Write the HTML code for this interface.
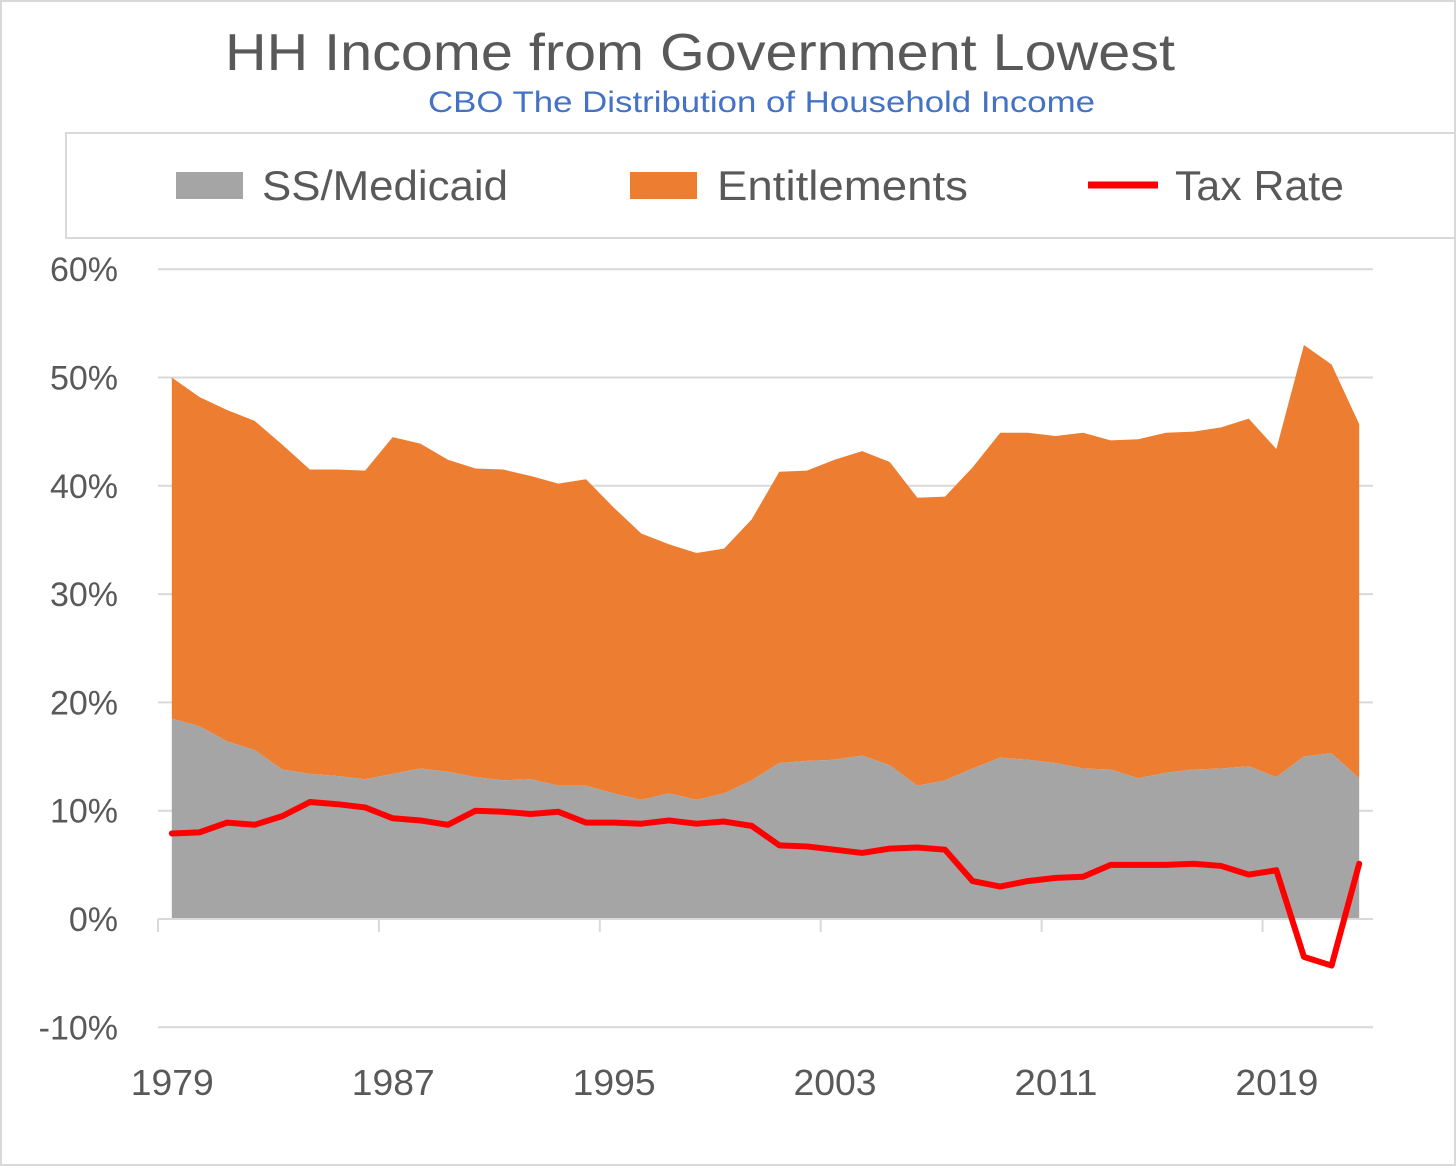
<!DOCTYPE html>
<html><head><meta charset="utf-8"><style>
body{margin:0;background:#fff}
#wrap{position:relative;width:1456px;height:1166px;box-sizing:border-box;border:2px solid #d9d9d9;font-family:"Liberation Sans",sans-serif}
text{font-family:"Liberation Sans",sans-serif}
</style></head><body>
<div id="wrap">
<svg id="c" width="1452" height="1162" viewBox="2 2 1452 1162" style="position:absolute;left:0;top:0">
<text x="225" y="70" font-size="52" fill="#595959" textLength="950" lengthAdjust="spacingAndGlyphs">HH Income from Government Lowest</text>
<text x="428" y="112" font-size="30" fill="#4472c4" textLength="667" lengthAdjust="spacingAndGlyphs">CBO The Distribution of Household Income</text>
<g>
<rect x="66" y="133" width="1400" height="105" fill="#fff" stroke="#d9d9d9" stroke-width="2"/>
<rect x="176" y="172" width="67" height="27" fill="#a5a5a5"/>
<text x="262" y="200" font-size="42" fill="#595959" textLength="246" lengthAdjust="spacingAndGlyphs">SS/Medicaid</text>
<rect x="630" y="172" width="67" height="27" fill="#ed7d31"/>
<text x="717" y="200" font-size="42" fill="#595959" textLength="251" lengthAdjust="spacingAndGlyphs">Entitlements</text>
<line x1="1088" y1="185" x2="1158" y2="185" stroke="#ff0000" stroke-width="7"/>
<text x="1175" y="200" font-size="42" fill="#595959" textLength="169" lengthAdjust="spacingAndGlyphs">Tax Rate</text>
</g>
<g id="plot"></g>
</svg>
</div>
<script>
const years=[];for(let y=1979;y<=2022;y++)years.push(y);
const totalTop=[50.0,48.2,47.0,46.0,43.8,41.5,41.5,41.4,44.5,43.9,42.4,41.6,41.5,40.9,40.2,40.6,38.0,35.6,34.6,33.8,34.2,36.9,41.3,41.4,42.4,43.2,42.2,38.9,39.0,41.7,44.9,44.9,44.6,44.9,44.2,44.3,44.9,45.0,45.4,46.2,43.4,53.0,51.2,45.7];
const ssMedicaid=[18.5,17.8,16.4,15.6,13.8,13.4,13.2,12.9,13.4,13.9,13.6,13.1,12.8,12.9,12.3,12.3,11.6,11.0,11.6,11.0,11.6,12.8,14.4,14.6,14.7,15.1,14.2,12.3,12.8,13.9,14.9,14.7,14.4,13.9,13.8,13.0,13.5,13.8,13.9,14.1,13.1,15.0,15.3,13.0];
const taxRate=[7.9,8.0,8.9,8.7,9.5,10.8,10.6,10.3,9.3,9.1,8.7,10.0,9.9,9.7,9.9,8.9,8.9,8.8,9.1,8.8,9.0,8.6,6.8,6.7,6.4,6.1,6.5,6.6,6.4,3.5,3.0,3.5,3.8,3.9,5.0,5.0,5.0,5.1,4.9,4.1,4.5,-3.5,-4.3,5.1];
const yTicks=[-10,0,10,20,30,40,50,60];
const xLabels=[1979,1987,1995,2003,2011,2019];
const NS='http://www.w3.org/2000/svg';
const g=document.getElementById('plot');
const L=158,R=1373,step=(R-L)/years.length;
const X=i=>L+step*(i+0.5);
const Y=v=>919-v*10.83;
function mk(t,a,p){const e=document.createElementNS(NS,t);for(const k in a)e.setAttribute(k,a[k]);(p||g).appendChild(e);return e;}
yTicks.forEach(v=>{
 const l=mk('line',{x1:L,x2:R,y1:Y(v),y2:Y(v),stroke:'#d9d9d9','stroke-width':2});
 
 
 const t=mk('text',{x:118,y:Y(v)+12,'font-size':34,fill:'#595959','text-anchor':'end'});
 t.textContent=v+'%';
 
 
});
function area(top,bot,color,name){
 let d='M'+X(0)+','+Y(top[0]);
 for(let i=1;i<top.length;i++)d+='L'+X(i)+','+Y(top[i]);
 for(let i=top.length-1;i>=0;i--)d+='L'+X(i)+','+Y(bot?bot[i]:0);
 const p=mk('path',{d:d+'Z',fill:color});
 
 
}
area(totalTop,ssMedicaid,'#ed7d31','entitlements-area');
area(ssMedicaid,null,'#a5a5a5','ss-medicaid-area');
const ax=mk('line',{x1:L,x2:R,y1:Y(0),y2:Y(0),stroke:'#d9d9d9','stroke-width':2});


for(let i=0;i<years.length;i+=8){
 const tk=mk('line',{x1:X(i)-step/2,x2:X(i)-step/2,y1:Y(0),y2:Y(0)+13,stroke:'#d9d9d9','stroke-width':2});
 
 
}
xLabels.forEach(yr=>{
 const i=years.indexOf(yr);
 const t=mk('text',{x:X(i)-41,y:1095,'font-size':36,fill:'#595959',textLength:83,lengthAdjust:'spacingAndGlyphs'});
 t.textContent=yr;
 
 
});
const pts=taxRate.map((v,i)=>X(i)+','+Y(v)).join(' ');
const pl=mk('polyline',{points:pts,fill:'none',stroke:'#ff0000','stroke-width':6,'stroke-linejoin':'round','stroke-linecap':'round'});


</script>
</body></html>
